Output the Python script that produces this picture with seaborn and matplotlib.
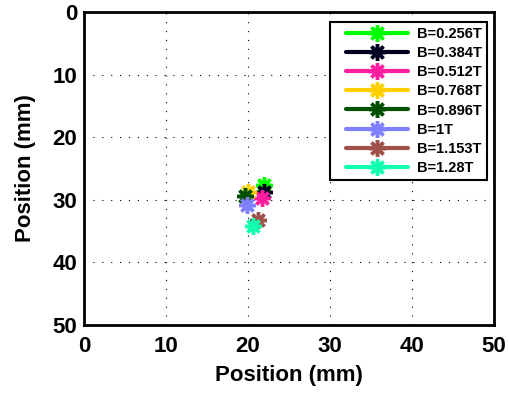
import seaborn as sns
import matplotlib.pyplot as plt
import pandas as pd
from matplotlib.legend_handler import HandlerLine2D

# beam centre positions for each field strength
fields = ["B=0.256T", "B=0.384T", "B=0.512T", "B=0.768T", "B=0.896T", "B=1T", "B=1.153T", "B=1.28T"]
x_mm = [21.9, 21.9, 21.7, 20.0, 19.6, 19.9, 21.2, 20.6]
y_mm = [27.6, 28.7, 29.7, 28.8, 29.4, 30.8, 33.3, 34.2]
colors = ["#00ff00", "#00001e", "#ff1ea0", "#ffd000", "#005000", "#8080ff", "#a0524a", "#10ffb0"]

df = pd.DataFrame({"field": fields, "x": x_mm, "y": y_mm})


class PaddedLine(HandlerLine2D):
    # leave some blank space on the left of each legend handle
    def get_xdata(self, legend, xdescent, ydescent, width, height, fontsize):
        lpad = 0.7 * fontsize
        x0 = -xdescent + lpad
        x1 = -xdescent + width
        return [x0, x1], [0.5 * (x0 + x1)]


sns.set_style("white")
plt.rcParams["font.family"] = ["Liberation Sans", "DejaVu Sans"]
plt.rcParams["font.weight"] = "bold"
plt.rcParams["text.color"] = "k"
plt.rcParams["axes.labelcolor"] = "k"
plt.rcParams["xtick.color"] = "k"
plt.rcParams["ytick.color"] = "k"

fig = plt.figure(figsize=(5.09, 4.01), dpi=100)
ax = fig.add_axes([0.165, 0.19, 0.8055, 0.78])

for i, row in df.iterrows():
    sns.lineplot(x=[row["x"]], y=[row["y"]], ax=ax, color=colors[i], label=row["field"],
                 marker=(8, 2, 0), markersize=12, markeredgewidth=2.5,
                 markeredgecolor=colors[i], markerfacecolor=colors[i], linewidth=3)

ax.set_xlim(0, 50)
ax.set_ylim(50, 0)
ax.set_xticks([0, 10, 20, 30, 40, 50])
ax.set_yticks([0, 10, 20, 30, 40, 50])
ax.grid(True, color="k", linestyle=(0, (1, 7)), linewidth=0.8)
ax.tick_params(direction="in", length=4, width=1, labelsize=16)
ax.tick_params(axis="x", pad=8)
ax.tick_params(axis="y", pad=5)
for lbl in ax.get_xticklabels() + ax.get_yticklabels():
    lbl.set_fontweight("bold")
for s in ax.spines.values():
    s.set_color("k")
    s.set_linewidth(2)
ax.set_xlabel("Position (mm)", fontsize=16, fontweight="bold", labelpad=6)
ax.set_ylabel("Position (mm)", fontsize=16, fontweight="bold", labelpad=12)

handles, labels = ax.get_legend_handles_labels()
leg = ax.legend(handles, labels, loc="upper right", bbox_to_anchor=(0.983, 0.968),
                prop={"size": 10.5, "weight": "bold"},
                fancybox=False, edgecolor="k", framealpha=1, borderaxespad=0,
                handlelength=5.0, handletextpad=0.6, labelspacing=0.35, borderpad=0.35,
                handler_map={h: PaddedLine() for h in handles})
leg.get_frame().set_linewidth(1.5)

fig.savefig("out.png", dpi=100)
